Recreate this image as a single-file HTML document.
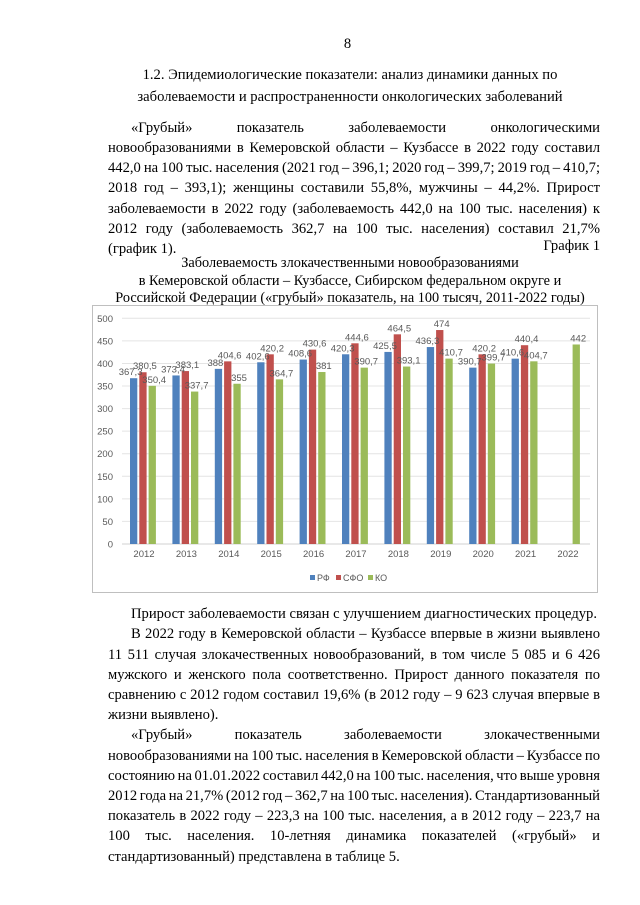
<!DOCTYPE html>
<html><head><meta charset="utf-8">
<style>
body{margin:0;background:#fff;}
#p{position:relative;width:640px;height:905px;font-family:"Liberation Serif",serif;font-size:14.6px;color:#000;}
.l{position:absolute;left:108px;width:492px;height:20px;line-height:20px;white-space:nowrap;}
.j{text-align:justify;text-align-last:justify;white-space:normal;overflow:hidden;word-spacing:-2.5px;}
.c{text-align:center;}
.i{left:131px;width:469px;}
</style></head><body><div id="p">
<div class="l c" style="top:34px;left:300px;width:95px">8</div>
<div class="l c" style="top:65px;left:100px;width:500px">1.2. Эпидемиологические показатели: анализ динамики данных по</div>
<div class="l c" style="top:87px;left:100px;width:500px">заболеваемости и распространенности онкологических заболеваний</div>
<div class="l j i" style="top:118px">«Грубый» показатель заболеваемости онкологическими</div>
<div class="l j" style="top:138px">новообразованиями в Кемеровской области – Кузбассе в 2022 году составил</div>
<div class="l j" style="top:158px">442,0 на 100 тыс. населения (2021 год – 396,1; 2020 год – 399,7; 2019 год – 410,7;</div>
<div class="l j" style="top:178px">2018 год – 393,1); женщины составили 55,8%, мужчины – 44,2%. Прирост</div>
<div class="l j" style="top:199px">заболеваемости в 2022 году (заболеваемость 442,0 на 100 тыс. населения) к</div>
<div class="l j" style="top:219px">2012 году (заболеваемость 362,7 на 100 тыс. населения) составил 21,7%</div>
<div class="l" style="top:239px">(график 1).</div>
<div class="l" style="top:236px;text-align:right">График 1</div>
<div class="l c" style="top:253px;left:90px;width:520px;font-size:14.3px">Заболеваемость злокачественными новообразованиями</div>
<div class="l c" style="top:271px;left:90px;width:520px;font-size:14.3px">в Кемеровской области – Кузбассе, Сибирском федеральном округе и</div>
<div class="l c" style="top:288px;left:90px;width:520px;font-size:14.3px">Российской Федерации («грубый» показатель, на 100 тысяч, 2011-2022 годы)</div>
<svg id="ch" style="position:absolute;left:0;top:0" width="640" height="905"></svg>
<div class="l i" style="top:604px">Прирост заболеваемости связан с улучшением диагностических процедур.</div>
<div class="l j i" style="top:624px">В 2022 году в Кемеровской области – Кузбассе впервые в жизни выявлено</div>
<div class="l j" style="top:645px">11 511 случая злокачественных новообразований, в том числе 5 085 и 6 426</div>
<div class="l j" style="top:665px">мужского и женского пола соответственно. Прирост данного показателя по</div>
<div class="l j" style="top:685px">сравнению с 2012 годом составил 19,6% (в 2012 году – 9 623 случая впервые в</div>
<div class="l" style="top:705px">жизни выявлено).</div>
<div class="l j i" style="top:725px">«Грубый» показатель заболеваемости злокачественными</div>
<div class="l j" style="top:746px">новообразованиями на 100 тыс. населения в Кемеровской области – Кузбассе по</div>
<div class="l j" style="top:766px">состоянию на 01.01.2022 составил 442,0 на 100 тыс. населения, что выше уровня</div>
<div class="l j" style="top:786px">2012 года на 21,7% (2012 год – 362,7 на 100 тыс. населения). Стандартизованный</div>
<div class="l j" style="top:806px">показатель в 2022 году – 223,3 на 100 тыс. населения, а в 2012 году – 223,7 на</div>
<div class="l j" style="top:826px">100 тыс. населения. 10-летняя динамика показателей («грубый» и</div>
<div class="l" style="top:847px">стандартизованный) представлена в таблице 5.</div>
</div>
<script>
var s='';
s+='<rect x="92.5" y="305.5" width="505" height="287" fill="#fff" stroke="#bfbfbf"/>';
function Y(v){return 544-v*0.4514;}
for(var v=0;v<=500;v+=50){var y=Y(v);
s+='<line x1="122" x2="590" y1="'+y+'" y2="'+y+'" stroke="'+(v?'#e4e4e4':'#d0d0d0')+'"/>';
s+='<text x="113" y="'+(y+3.5)+'" text-anchor="end" font-size="9.5" fill="#595959" font-family="Liberation Sans,sans-serif">'+v+'</text>';}
var rf=[367.3,373.4,388,402.6,408.6,420.3,425.5,436.3,390.7,410.6,null];
var sf=[380.5,383.1,404.6,420.2,430.6,444.6,464.5,474,420.2,440.4,null];
var ko=[350.4,337.7,355,364.7,381,390.7,393.1,410.7,399.7,404.7,442];
var col=['#4f81bd','#c0504d','#9bbb59'];var d=[rf,sf,ko];
function f(v){return String(v).replace('.',',');}
for(var i=0;i<11;i++){var c=143+42.4*i;
s+='<text x="'+(c+1)+'" y="557" text-anchor="middle" font-size="9.5" fill="#595959" font-family="Liberation Sans,sans-serif">'+(2012+i)+'</text>';
for(var k=0;k<3;k++){var v=d[k][i];if(v==null)continue;var x=c-13+k*9.3;
s+='<rect x="'+x+'" y="'+Y(v)+'" width="7.3" height="'+(544-Y(v))+'" fill="'+col[k]+'"/>';}
for(var k=0;k<3;k++){var v=d[k][i];if(v==null)continue;var x=c-13+k*9.3+3.6;
s+='<text x="'+(x+(k==0?-3:2))+'" y="'+(Y(v)-3)+'" text-anchor="middle" font-size="9.5" fill="#595959" font-family="Liberation Sans,sans-serif">'+f(v)+'</text>';}}
var lg=[['РФ',310],['СФО',336],['КО',368]];
for(var k=0;k<3;k++){s+='<rect x="'+lg[k][1]+'" y="575" width="5" height="5" fill="'+col[k]+'"/><text x="'+(lg[k][1]+7)+'" y="581" font-size="9" fill="#595959" font-family="Liberation Sans,sans-serif">'+lg[k][0]+'</text>';}
document.getElementById('ch').innerHTML=s;
</script>
</body></html>
